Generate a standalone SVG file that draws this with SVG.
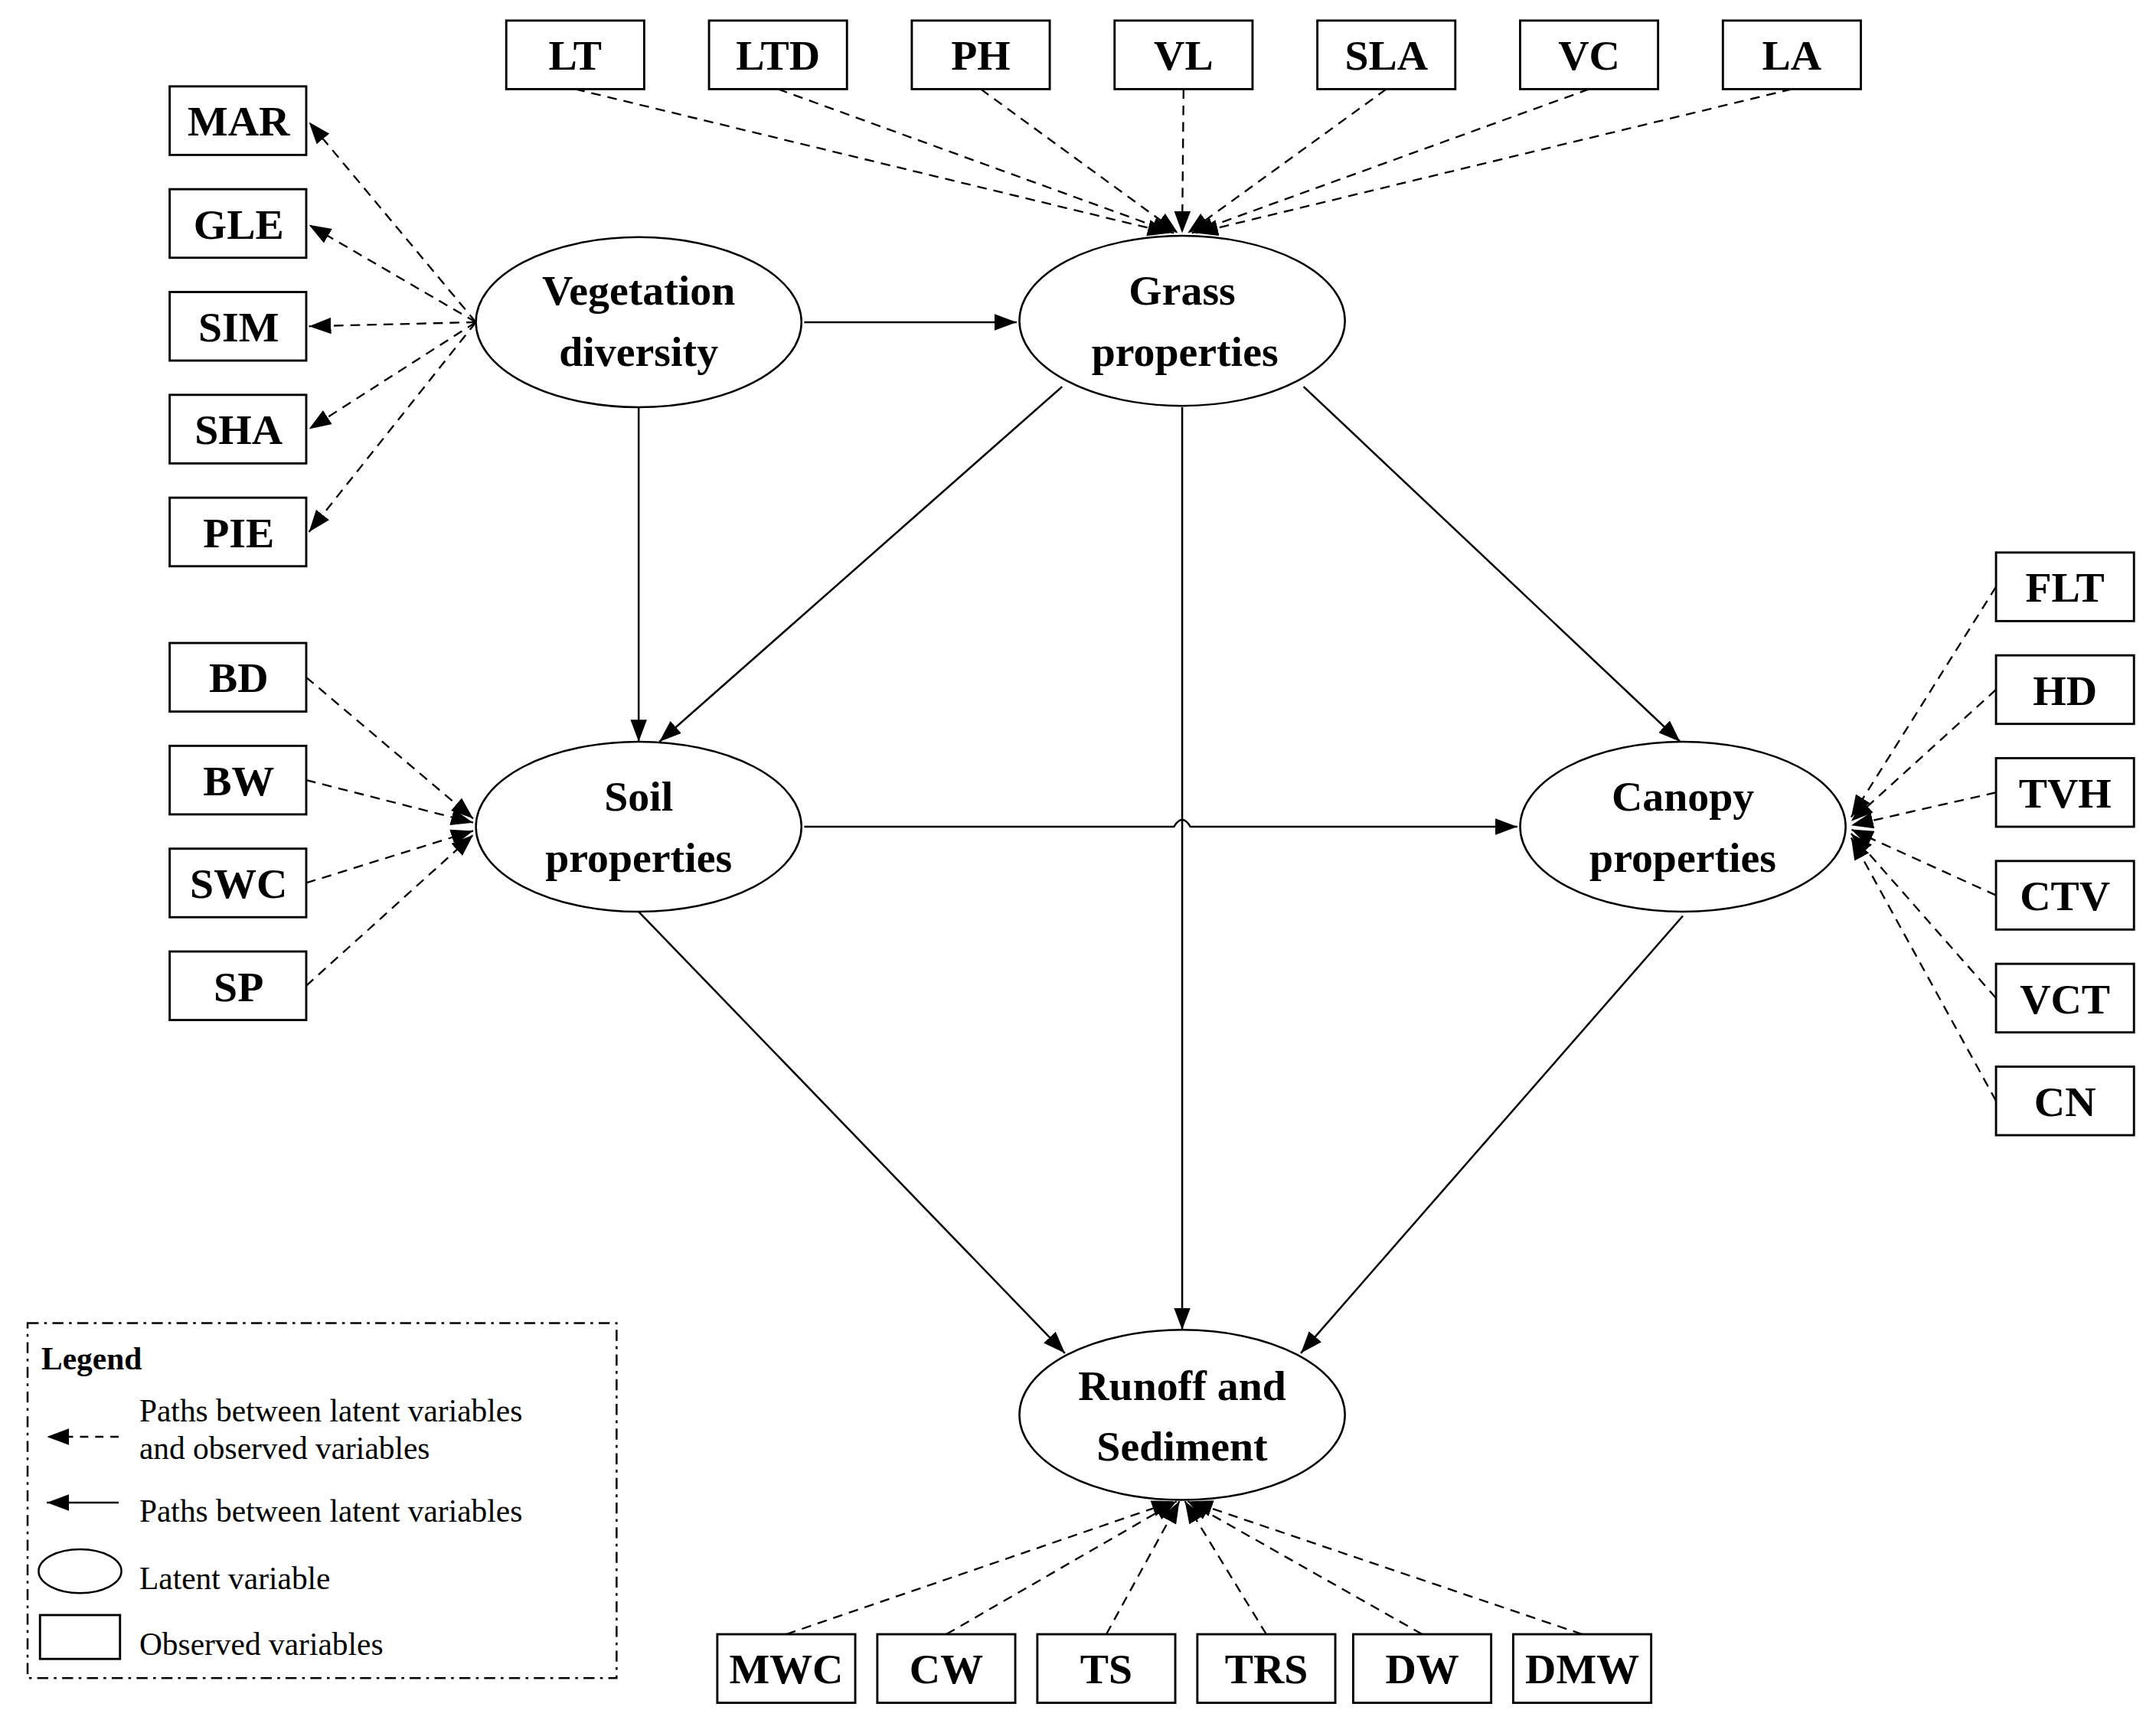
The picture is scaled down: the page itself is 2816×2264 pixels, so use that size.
<svg xmlns="http://www.w3.org/2000/svg" width="2816" height="2264" viewBox="0 0 2816 2264">
<defs>
<marker id="ah" markerUnits="userSpaceOnUse" viewBox="0 0 16 12" refX="16" refY="6" markerWidth="16" markerHeight="12" orient="auto"><path d="M0,0 L16,6 L0,12 z" fill="#000"/></marker>
<style>
.box{fill:#fff;stroke:#000;stroke-width:1.6}
.ell{fill:#fff;stroke:#000;stroke-width:1.4}
.bt{font-family:"Liberation Serif",serif;font-weight:bold;font-size:31px;text-anchor:middle}
.et{font-family:"Liberation Serif",serif;font-weight:bold;font-size:31px;text-anchor:middle}
.lt{font-family:"Liberation Serif",serif;font-size:23px}
.d{fill:none;stroke:#000;stroke-width:1.3;stroke-dasharray:7 5;marker-end:url(#ah)}
.s{fill:none;stroke:#000;stroke-width:1.4;marker-end:url(#ah)}
</style>
</defs>
<rect width="2816" height="2264" fill="#fff"/>
<g transform="scale(1.8017 1.7911)">
<g id="connectors">
<line class="d" x1="417" y1="65" x2="848" y2="170"/>
<line class="d" x1="564" y1="65" x2="851" y2="170"/>
<line class="d" x1="711" y1="65" x2="854" y2="170"/>
<line class="d" x1="858" y1="65" x2="857" y2="170"/>
<line class="d" x1="1005" y1="65" x2="861" y2="170"/>
<line class="d" x1="1152" y1="65" x2="864" y2="170"/>
<line class="d" x1="1299" y1="65" x2="867" y2="170"/>
<line class="d" x1="345" y1="235" x2="224" y2="89"/>
<line class="d" x1="345" y1="235" x2="224" y2="164"/>
<line class="d" x1="345" y1="235" x2="224" y2="238"/>
<line class="d" x1="345" y1="235" x2="224" y2="313"/>
<line class="d" x1="345" y1="235" x2="224" y2="388"/>
<line class="d" x1="222" y1="494" x2="343" y2="597"/>
<line class="d" x1="222" y1="569" x2="343" y2="600"/>
<line class="d" x1="222" y1="644" x2="343" y2="606"/>
<line class="d" x1="222" y1="719" x2="343" y2="609"/>
<line class="d" x1="1447" y1="428" x2="1342" y2="596"/>
<line class="d" x1="1447" y1="503" x2="1342" y2="599"/>
<line class="d" x1="1447" y1="578" x2="1342" y2="602"/>
<line class="d" x1="1447" y1="653" x2="1342" y2="605"/>
<line class="d" x1="1447" y1="728" x2="1342" y2="608"/>
<line class="d" x1="1447" y1="803" x2="1342" y2="611"/>
<line class="d" x1="570" y1="1192" x2="851" y2="1095"/>
<line class="d" x1="686" y1="1192" x2="853" y2="1095"/>
<line class="d" x1="802" y1="1192" x2="855" y2="1095"/>
<line class="d" x1="918" y1="1192" x2="859" y2="1095"/>
<line class="d" x1="1031" y1="1192" x2="861" y2="1095"/>
<line class="d" x1="1147" y1="1192" x2="863" y2="1095"/>
<line class="s" x1="583" y1="235" x2="737" y2="235"/>
<line class="s" x1="463" y1="297" x2="463" y2="541"/>
<line class="s" x1="770" y1="282" x2="478" y2="541"/>
<line class="s" x1="945" y1="282" x2="1218" y2="541"/>
<line class="s" x1="857" y1="297" x2="857" y2="970"/>
<path class="s" d="M583,603 L851,603 Q857,593 863,603 L1100,603"/>
<line class="s" x1="463" y1="665" x2="772" y2="987"/>
<line class="s" x1="1220" y1="668" x2="943" y2="987"/>
</g>
<g id="n-LT"><rect class="box" x="367" y="15" width="100" height="50"/><text class="bt" x="417" y="51">LT</text></g>
<g id="n-LTD"><rect class="box" x="514" y="15" width="100" height="50"/><text class="bt" x="564" y="51">LTD</text></g>
<g id="n-PH"><rect class="box" x="661" y="15" width="100" height="50"/><text class="bt" x="711" y="51">PH</text></g>
<g id="n-VL"><rect class="box" x="808" y="15" width="100" height="50"/><text class="bt" x="858" y="51">VL</text></g>
<g id="n-SLA"><rect class="box" x="955" y="15" width="100" height="50"/><text class="bt" x="1005" y="51">SLA</text></g>
<g id="n-VC"><rect class="box" x="1102" y="15" width="100" height="50"/><text class="bt" x="1152" y="51">VC</text></g>
<g id="n-LA"><rect class="box" x="1249" y="15" width="100" height="50"/><text class="bt" x="1299" y="51">LA</text></g>
<g id="n-MAR"><rect class="box" x="123" y="63" width="99" height="50"/><text class="bt" x="173" y="99">MAR</text></g>
<g id="n-GLE"><rect class="box" x="123" y="138" width="99" height="50"/><text class="bt" x="173" y="174">GLE</text></g>
<g id="n-SIM"><rect class="box" x="123" y="213" width="99" height="50"/><text class="bt" x="173" y="249">SIM</text></g>
<g id="n-SHA"><rect class="box" x="123" y="288" width="99" height="50"/><text class="bt" x="173" y="324">SHA</text></g>
<g id="n-PIE"><rect class="box" x="123" y="363" width="99" height="50"/><text class="bt" x="173" y="399">PIE</text></g>
<g id="n-BD"><rect class="box" x="123" y="469" width="99" height="50"/><text class="bt" x="173" y="505">BD</text></g>
<g id="n-BW"><rect class="box" x="123" y="544" width="99" height="50"/><text class="bt" x="173" y="580">BW</text></g>
<g id="n-SWC"><rect class="box" x="123" y="619" width="99" height="50"/><text class="bt" x="173" y="655">SWC</text></g>
<g id="n-SP"><rect class="box" x="123" y="694" width="99" height="50"/><text class="bt" x="173" y="730">SP</text></g>
<g id="n-FLT"><rect class="box" x="1447" y="403" width="100" height="50"/><text class="bt" x="1497" y="439">FLT</text></g>
<g id="n-HD"><rect class="box" x="1447" y="478" width="100" height="50"/><text class="bt" x="1497" y="514">HD</text></g>
<g id="n-TVH"><rect class="box" x="1447" y="553" width="100" height="50"/><text class="bt" x="1497" y="589">TVH</text></g>
<g id="n-CTV"><rect class="box" x="1447" y="628" width="100" height="50"/><text class="bt" x="1497" y="664">CTV</text></g>
<g id="n-VCT"><rect class="box" x="1447" y="703" width="100" height="50"/><text class="bt" x="1497" y="739">VCT</text></g>
<g id="n-CN"><rect class="box" x="1447" y="778" width="100" height="50"/><text class="bt" x="1497" y="814">CN</text></g>
<g id="n-MWC"><rect class="box" x="520" y="1192" width="100" height="50"/><text class="bt" x="570" y="1228">MWC</text></g>
<g id="n-CW"><rect class="box" x="636" y="1192" width="100" height="50"/><text class="bt" x="686" y="1228">CW</text></g>
<g id="n-TS"><rect class="box" x="752" y="1192" width="100" height="50"/><text class="bt" x="802" y="1228">TS</text></g>
<g id="n-TRS"><rect class="box" x="868" y="1192" width="100" height="50"/><text class="bt" x="918" y="1228">TRS</text></g>
<g id="n-DW"><rect class="box" x="981" y="1192" width="100" height="50"/><text class="bt" x="1031" y="1228">DW</text></g>
<g id="n-DMW"><rect class="box" x="1097" y="1192" width="100" height="50"/><text class="bt" x="1147" y="1228">DMW</text></g>
<g id="n-veg"><ellipse class="ell" cx="463" cy="235" rx="118" ry="62"/><text class="et" x="463" y="222">Vegetation</text><text class="et" x="463" y="267">diversity</text></g>
<g id="n-grass"><ellipse class="ell" cx="857" cy="234" rx="118" ry="62"/><text class="et" x="857" y="222">Grass</text><text class="et" x="859" y="267">properties</text></g>
<g id="n-soil"><ellipse class="ell" cx="463" cy="603" rx="118" ry="62"/><text class="et" x="463" y="591">Soil</text><text class="et" x="463" y="636">properties</text></g>
<g id="n-canopy"><ellipse class="ell" cx="1220" cy="603" rx="118" ry="62"/><text class="et" x="1220" y="591">Canopy</text><text class="et" x="1220" y="636">properties</text></g>
<g id="n-runoff"><ellipse class="ell" cx="857" cy="1032" rx="118" ry="62"/><text class="et" x="857" y="1021">Runoff and</text><text class="et" x="857" y="1065">Sediment</text></g>
<g id="legend">
<rect x="20" y="965" width="427" height="259" fill="none" stroke="#000" stroke-width="1.4" stroke-dasharray="8 4 2 4"/>
<text class="lt" x="30" y="999" font-weight="bold">Legend</text>
<line x1="86" y1="1048" x2="34" y2="1048" stroke="#000" stroke-width="1.4" stroke-dasharray="6 5" marker-end="url(#ah)"/>
<text class="lt" x="101" y="1037">Paths between latent variables</text>
<text class="lt" x="101" y="1064">and observed variables</text>
<line x1="86" y1="1096" x2="34" y2="1096" stroke="#000" stroke-width="1.4" marker-end="url(#ah)"/>
<text class="lt" x="101" y="1110">Paths between latent variables</text>
<ellipse cx="58" cy="1146" rx="30" ry="16" fill="none" stroke="#000" stroke-width="1.4"/>
<text class="lt" x="101" y="1159">Latent variable</text>
<rect x="29" y="1178" width="58" height="32" fill="none" stroke="#000" stroke-width="1.6"/>
<text class="lt" x="101" y="1207">Observed variables</text>
</g>
</g>
</svg>
